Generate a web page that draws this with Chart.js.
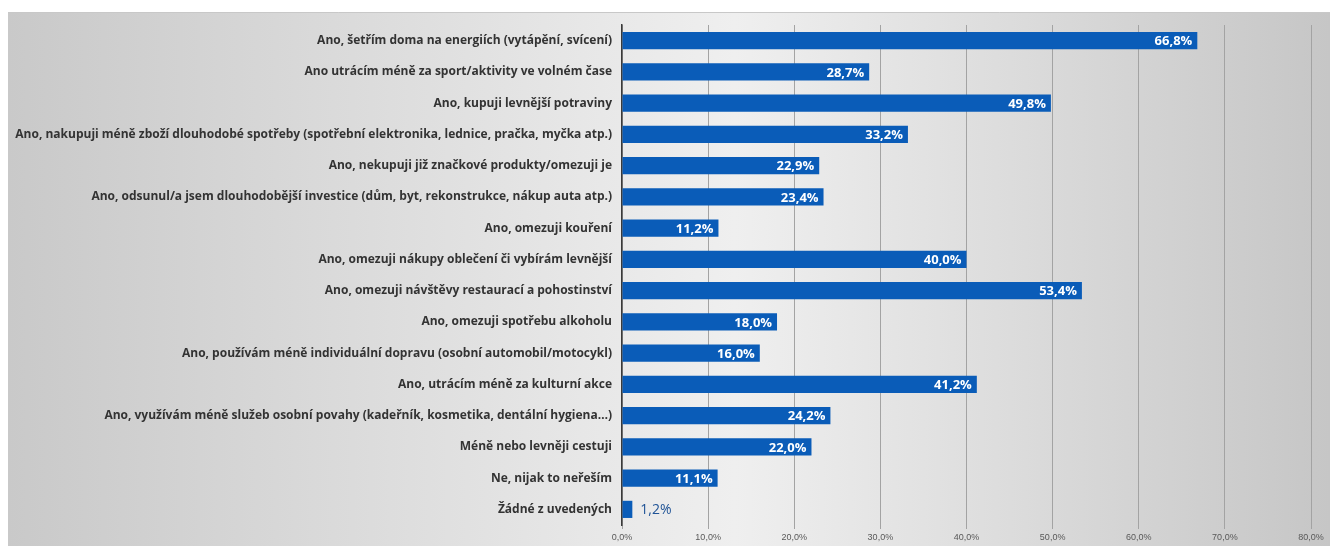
<!DOCTYPE html>
<html>
<head>
<meta charset="utf-8">
<script src="https://cdn.jsdelivr.net/npm/chart.js@4.4.1/dist/chart.umd.min.js"></script>
<style>
  html, body { margin: 0; padding: 0; background: #fff; }
  #wrap { width: 1330px; height: 546px; }
</style>
</head>
<body>
<div id="wrap"><canvas id="chart" width="1330" height="546"></canvas></div>
<script>
const categories = [
  "Ano, šetřím doma na energiích (vytápění, svícení)",
  "Ano utrácím méně za sport/aktivity ve volném čase",
  "Ano, kupuji levnější potraviny",
  "Ano, nakupuji méně zboží dlouhodobé spotřeby (spotřební elektronika, lednice, pračka, myčka atp.)",
  "Ano, nekupuji již značkové produkty/omezuji je",
  "Ano, odsunul/a jsem dlouhodobější investice (dům, byt, rekonstrukce, nákup auta atp.)",
  "Ano, omezuji kouření",
  "Ano, omezuji nákupy oblečení či vybírám levnější",
  "Ano, omezuji návštěvy restaurací a pohostinství",
  "Ano, omezuji spotřebu alkoholu",
  "Ano, používám méně individuální dopravu (osobní automobil/motocykl)",
  "Ano, utrácím méně za kulturní akce",
  "Ano, využívám méně služeb osobní povahy (kadeřník, kosmetika, dentální hygiena…)",
  "Méně nebo levněji cestuji",
  "Ne, nijak to neřeším",
  "Žádné z uvedených"
];
const shares = [66.8, 28.7, 49.8, 33.2, 22.9, 23.4, 11.2, 40.0, 53.4, 18.0, 16.0, 41.2, 24.2, 22.0, 11.1, 1.2];
const axisMax = 80;
const axisStep = 10;

const fmt = v => v.toFixed(1).replace(".", ",") + "%";

// grey backdrop panel behind the plot
const backdrop = {
  id: "backdrop",
  beforeDraw(chart) {
    const ctx = chart.ctx;
    const w = chart.width, h = chart.height;
    const g = ctx.createLinearGradient(8, 0, w, 0);
    g.addColorStop(0, "#c9c9c9");
    g.addColorStop(0.55, "#efefef");
    g.addColorStop(1, "#c6c6c6");
    ctx.save();
    ctx.fillStyle = "#fff";
    ctx.fillRect(0, 0, w, h);
    ctx.fillStyle = g;
    ctx.fillRect(8, 12, w - 8, h - 12);
    ctx.strokeStyle = "#c8c8c8";
    ctx.lineWidth = 1;
    ctx.beginPath();
    ctx.moveTo(8, 12.5);
    ctx.lineTo(w, 12.5);
    ctx.stroke();
    ctx.restore();
  }
};

// value labels at the bar ends
const valueLabels = {
  id: "valueLabels",
  afterDatasetsDraw(chart) {
    const ctx = chart.ctx;
    const meta = chart.getDatasetMeta(0);
    ctx.save();
    ctx.textBaseline = "middle";
    meta.data.forEach((bar, i) => {
      const v = shares[i];
      const txt = fmt(v);
      if (v < 5) {
        ctx.font = "14px 'Open Sans'";
        ctx.fillStyle = "#1f5396";
        ctx.textAlign = "left";
        ctx.fillText(txt, bar.x + 8, bar.y + 1);
      } else {
        ctx.font = "bold 13px 'Open Sans'";
        ctx.fillStyle = "#ffffff";
        ctx.textAlign = "right";
        ctx.fillText(txt, bar.x - 5, bar.y + 1);
      }
    });
    ctx.restore();
  }
};

const ctx = document.getElementById("chart").getContext("2d");

function barFill(context) {
  const chart = context.chart;
  const bar = context.element;
  if (!bar || bar.y === undefined) return "#0a5cb8";
  const h = bar.height || 17;
  const g = chart.ctx.createLinearGradient(0, bar.y - h / 2, 0, bar.y + h / 2);
  g.addColorStop(0, "#1776d6");
  g.addColorStop(0.45, "#0a5cb8");
  g.addColorStop(1, "#083f86");
  return g;
}

new Chart(ctx, {
  type: "bar",
  data: {
    labels: categories,
    datasets: [{
      data: shares,
      backgroundColor: barFill,
      borderWidth: 0,
      barPercentage: 0.55,
      categoryPercentage: 1.0
    }]
  },
  options: {
    indexAxis: "y",
    responsive: false,
    animation: false,
    devicePixelRatio: 1,
    layout: { padding: { top: 25, right: 19, left: 0, bottom: 0 } },
    plugins: {
      legend: { display: false },
      tooltip: { enabled: false }
    },
    scales: {
      x: {
        min: 0,
        max: axisMax,
        ticks: {
          stepSize: axisStep,
          callback: v => fmt(v),
          color: "#595959",
          font: { family: "Liberation Sans", size: 9 },
          padding: 3
        },
        grid: {
          color: "#a3a3a3",
          lineWidth: 1,
          drawTicks: true,
          tickLength: 4
        },
        border: { display: false },
        afterFit(scale) { scale.height = 21; }
      },
      y: {
        ticks: {
          color: "#333333",
          font: { family: "Open Sans", size: 12, weight: "bold" },
          padding: 2,
          autoSkip: false
        },
        grid: { display: false },
        border: { display: true, color: "#3a3a3a", width: 1.5 },
        afterFit(scale) { scale.width = 622; }
      }
    }
  },
  plugins: [backdrop, valueLabels]
});
</script>
</body>
</html>
